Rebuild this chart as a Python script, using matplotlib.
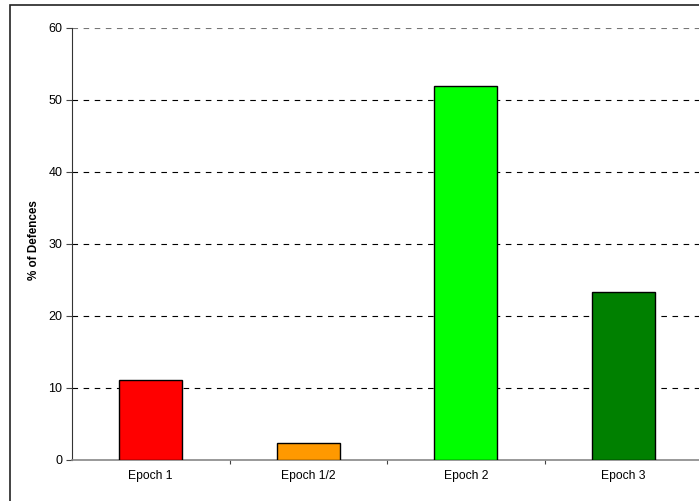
import matplotlib.pyplot as plt
from matplotlib.patches import Rectangle

plt.rcParams['font.family'] = ['Liberation Sans', 'DejaVu Sans']

epochs = ["Epoch 1", "Epoch 1/2", "Epoch 2", "Epoch 3"]
defences = [11.1, 2.3, 52.0, 23.4]
colors = ["#FF0000", "#FF9900", "#00FF00", "#008000"]
yticks = [0, 10, 20, 30, 40, 50, 60]

fig = plt.figure(figsize=(6.99, 5.01), dpi=100)
fig.patches.append(Rectangle((10/699, -0.1), 1.2, 1 - 5/501 + 0.1,
                             transform=fig.transFigure, fill=False,
                             edgecolor="#222222", linewidth=1.2))
ax = fig.add_axes([72/699, 1 - 460/501, 630/699, 432/501])

x = range(len(epochs))
ax.bar(x, defences, width=0.4, color=colors, edgecolor="black", linewidth=1, zorder=3)

ax.set_xlim(-0.5, 3.5)
ax.set_ylim(0, 60)
ax.set_yticks(yticks)
ax.set_xticks(list(x))
ax.set_xticklabels(epochs, fontsize=8.7)
ax.set_xticks([0.5, 1.5, 2.5], minor=True)
ax.tick_params(axis="x", which="major", length=0, pad=7)
ax.tick_params(axis="x", which="minor", length=3, width=0.8, color="#444444")
ax.tick_params(axis="y", length=4, width=0.8, labelsize=9, color="#444444", pad=3)

ax.yaxis.grid(True, linestyle=(0, (5, 5)), color="black", linewidth=0.8, zorder=0)
gl = ax.yaxis.get_gridlines()
gl[-1].set_color("#777777")
gl[0].set_visible(False)

ax.spines["top"].set_visible(False)
ax.spines["right"].set_visible(False)
ax.spines["left"].set_color("#333333")
ax.spines["bottom"].set_color("#888888")
ax.spines["bottom"].set_linewidth(1.2)

ax.set_ylabel("% of Defences", fontsize=8.4, fontweight="bold")
ax.yaxis.set_label_coords(-0.050, 0.51)

fig.savefig("out.png", dpi=100)
